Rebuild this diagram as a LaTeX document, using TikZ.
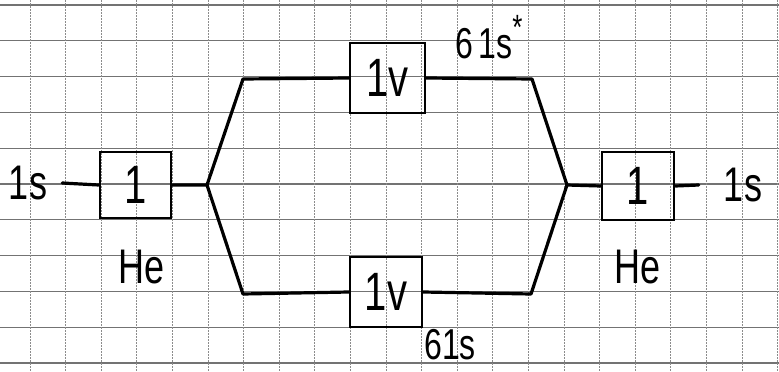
\documentclass[tikz,border=0pt]{standalone}
\usepackage{fontspec}
\setmainfont{Liberation Sans}
\usepackage{graphicx}
\newcommand{\hw}[1]{\scalebox{1}[1.35]{#1}}
\begin{document}
\begin{tikzpicture}[x=1pt,y=-1pt,
  orb/.style={draw=black,line width=2.6pt,inner sep=0pt},
  wire/.style={line width=3.2pt,line join=round,line cap=round},
  lab/.style={inner sep=1pt},
  big/.style={font=\fontsize{40}{40}\selectfont},
  mid/.style={font=\fontsize{36}{36}\selectfont},
  small/.style={font=\fontsize{32}{32}\selectfont},
  hgrid/.style={black!55,line width=1.3pt},
  vgrid/.style={black!45,line width=1pt,dash pattern=on 1.5pt off 1.5pt}]
\useasboundingbox (0,0) rectangle (779,372);
\fill[white] (0,0) rectangle (779,372);
% squared paper
\foreach \k in {0,...,10} \draw[hgrid] (0,5+35.8*\k) -- (779,5+35.8*\k);
\foreach \k in {0,...,21} \draw[vgrid] (30+35.6*\k,0) -- (30+35.6*\k,372);
% boxes
\node[orb,big,minimum width=71pt,minimum height=66pt] (lbox) at (135.5,185) {\hw{1}};
\node[orb,big,minimum width=75pt,minimum height=70pt] (tbox) at (387.5,78) {\hw{1v}};
\node[orb,big,minimum width=72pt,minimum height=70pt] (bbox) at (386,292) {\hw{1v}};
\node[orb,big,minimum width=72pt,minimum height=68pt] (rbox) at (638,186) {\hw{1}};
% labels
\node[lab,mid] (ls) at (28,183) {\hw{1s}};
\node[lab,mid] (rs) at (743,185) {\hw{1s}};
\node[lab,mid] (lhe) at (142,267) {\hw{He}};
\node[lab,mid] (rhe) at (638,267) {\hw{He}};
\node[lab,small] (tlab) at (489,37) {\hw{6\,1s\raisebox{0.45em}{\fontsize{26}{26}\selectfont *}}};
\node[lab,small] (blab) at (450,345) {\hw{61s}};
% junctions and corners
\coordinate (j1) at (207,185);
\coordinate (ul) at (243,79);
\coordinate (ll) at (243,294);
\coordinate (ur) at (532,79);
\coordinate (lr) at (531,294);
\coordinate (j2) at (567,185);
% connectors
\draw[wire] ([xshift=14pt]ls.east) -- (lbox.west);
\draw[wire] (lbox.east) -- (j1) -- (ul) -- (tbox.west);
\draw[wire] (j1) -- (ll) -- (bbox.west);
\draw[wire] (tbox.east) -- (ur) -- (j2) -- (rbox.west);
\draw[wire] (bbox.east) -- (lr) -- (j2);
\draw[wire] (rbox.east) -- ([xshift=-24pt]rs.west);
\end{tikzpicture}
\end{document}
